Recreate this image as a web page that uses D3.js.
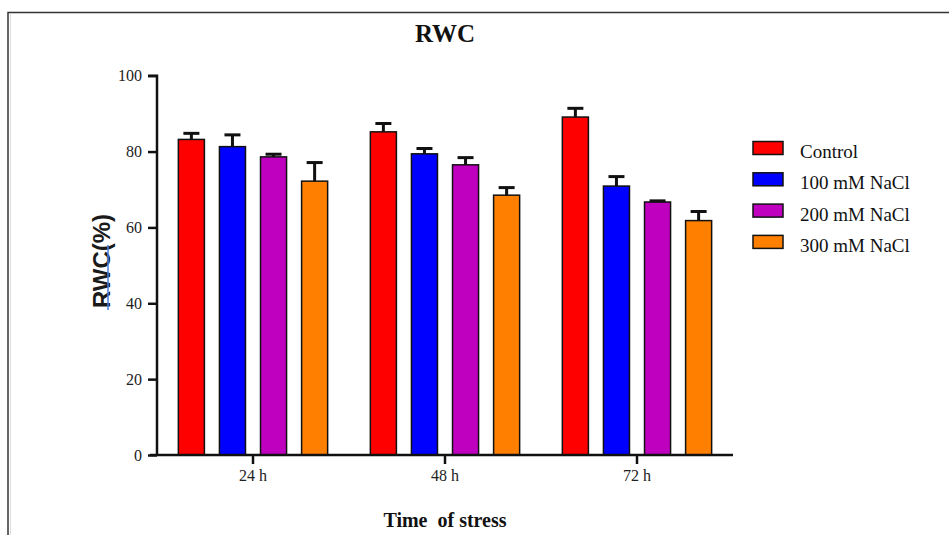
<!DOCTYPE html>
<html>
<head>
<meta charset="utf-8">
<script src="https://cdn.jsdelivr.net/npm/d3@7/dist/d3.min.js"></script>
<style>
  html, body { margin: 0; padding: 0; background: #fff; }
  svg { display: block; }
</style>
</head>
<body>
<svg id="chart" width="949" height="535"></svg>
<script>
// Relative water content (RWC, %) by stress duration and NaCl level
const timepoints = ["24 h", "48 h", "72 h"];
const treatments = ["Control", "100 mM NaCl", "200 mM NaCl", "300 mM NaCl"];
const treatmentColors = ["#ff0000", "#0000ff", "#bf00bf", "#ff8000"];
// mean RWC per timepoint, one array per treatment
const controlMean = [83.2, 85.2, 89.1];
const nacl100Mean = [81.3, 79.4, 70.9];
const nacl200Mean = [78.6, 76.5, 66.7];
const nacl300Mean = [72.2, 68.5, 61.8];
// standard error per timepoint, one array per treatment
const controlErr = [1.6, 2.2, 2.3];
const nacl100Err = [3.1, 1.4, 2.5];
const nacl200Err = [0.7, 1.9, 0.3];
const nacl300Err = [4.9, 2.0, 2.4];
const yTicks = [0, 20, 40, 60, 80, 100];

const means = [controlMean, nacl100Mean, nacl200Mean, nacl300Mean];
const errs = [controlErr, nacl100Err, nacl200Err, nacl300Err];

const rows = [];
timepoints.forEach((t, i) => {
  treatments.forEach((s, j) => {
    rows.push({ time: t, treatment: s, color: treatmentColors[j], value: means[j][i], err: errs[j][i] });
  });
});

const svg = d3.select("#chart");
const plotLeft = 157, plotRight = 733, plotTop = 75.7, plotBottom = 455;

// outer frame (top and left edges)
svg.append("path")
  .attr("d", "M8,535V12.5H949")
  .attr("fill", "none")
  .attr("stroke", "#333")
  .attr("stroke-width", 1.5);
svg.append("path")
  .attr("d", "M10.5,535V14")
  .attr("fill", "none")
  .attr("stroke", "#ddd")
  .attr("stroke-width", 1);

const x0 = d3.scaleBand().domain(timepoints).range([plotLeft, plotRight]).padding(0);
const x1 = d3.scaleBand().domain(treatments).range([0, x0.bandwidth()])
  .paddingInner(0.366).paddingOuter(0.52);
const y = d3.scaleLinear().domain([0, 100]).range([plotBottom, plotTop]);

const serif = "'Liberation Serif', 'Times New Roman', serif";

// title
svg.append("text")
  .attr("x", (plotLeft + plotRight) / 2)
  .attr("y", 41.5)
  .attr("text-anchor", "middle")
  .attr("font-family", serif)
  .attr("font-weight", "bold")
  .attr("font-size", 25)
  .attr("fill", "#111")
  .text("RWC");

// bars
const bars = svg.append("g");
bars.selectAll("rect")
  .data(rows)
  .join("rect")
  .attr("x", d => x0(d.time) + x1(d.treatment))
  .attr("y", d => y(d.value))
  .attr("width", x1.bandwidth())
  .attr("height", d => y(0) - y(d.value))
  .attr("fill", d => d.color)
  .attr("stroke", "#111")
  .attr("stroke-width", 1.5);

// upward error bars
const eb = svg.append("g").attr("stroke", "#111").attr("stroke-width", 3).attr("fill", "none");
rows.forEach(d => {
  const cx = x0(d.time) + x1(d.treatment) + x1.bandwidth() / 2;
  eb.append("line")
    .attr("x1", cx).attr("x2", cx)
    .attr("y1", y(d.value)).attr("y2", y(d.value + d.err));
  eb.append("line")
    .attr("x1", cx - 8).attr("x2", cx + 8)
    .attr("y1", y(d.value + d.err)).attr("y2", y(d.value + d.err));
});

// y axis
const yAxis = svg.append("g")
  .attr("transform", `translate(${plotLeft},0)`)
  .call(d3.axisLeft(y).tickValues(yTicks).tickSize(9).tickPadding(6).tickFormat(d3.format("d")));
yAxis.select(".domain").attr("stroke", "#111").attr("stroke-width", 2.5)
  .attr("d", `M-9,${plotTop}H0V${plotBottom}`);
yAxis.selectAll(".tick line").attr("stroke", "#111").attr("stroke-width", 2.5);
yAxis.selectAll(".tick text")
  .attr("font-family", serif).attr("font-size", 16).attr("fill", "#222");

// x axis
const xAxis = svg.append("g")
  .attr("transform", `translate(0,${plotBottom})`)
  .call(d3.axisBottom(x0).tickSize(9).tickPadding(6));
xAxis.select(".domain").attr("stroke", "#111").attr("stroke-width", 2.5)
  .attr("d", `M150,0H${plotRight}`);
xAxis.selectAll(".tick line").attr("stroke", "#111").attr("stroke-width", 2.5);
xAxis.selectAll(".tick text")
  .attr("font-family", serif).attr("font-size", 16).attr("fill", "#222");

// axis titles
svg.append("text")
  .attr("x", (plotLeft + plotRight) / 2)
  .attr("y", 527)
  .attr("text-anchor", "middle")
  .attr("font-family", serif)
  .attr("font-weight", "bold")
  .attr("font-size", 20)
  .attr("fill", "#111")
  .attr("xml:space", "preserve")
  .text("Time  of stress");

const yTitle = svg.append("g").attr("transform", "translate(110,261) rotate(-90)");
yTitle.append("text")
  .attr("text-anchor", "middle")
  .attr("font-family", "'Liberation Sans', Arial, sans-serif")
  .attr("font-weight", "bold")
  .attr("font-size", 24)
  .attr("fill", "#1a1a1a")
  .text("RWC(%)");
yTitle.append("line")
  .attr("x1", -49).attr("x2", 16)
  .attr("y1", -2).attr("y2", -2)
  .attr("stroke", "#4a7fe0")
  .attr("stroke-width", 1.5);

// legend
const legend = svg.append("g").attr("transform", "translate(753,141.5)");
const item = legend.selectAll("g")
  .data(treatments)
  .join("g")
  .attr("transform", (d, i) => `translate(0,${i * 31.3})`);
item.append("rect")
  .attr("width", 30).attr("height", 13)
  .attr("fill", (d, i) => treatmentColors[i])
  .attr("stroke", "#111").attr("stroke-width", 1.5);
item.append("text")
  .attr("x", 47).attr("y", 16.5)
  .attr("font-family", serif)
  .attr("font-size", 19)
  .attr("fill", "#111")
  .text(d => d);
</script>
</body>
</html>
